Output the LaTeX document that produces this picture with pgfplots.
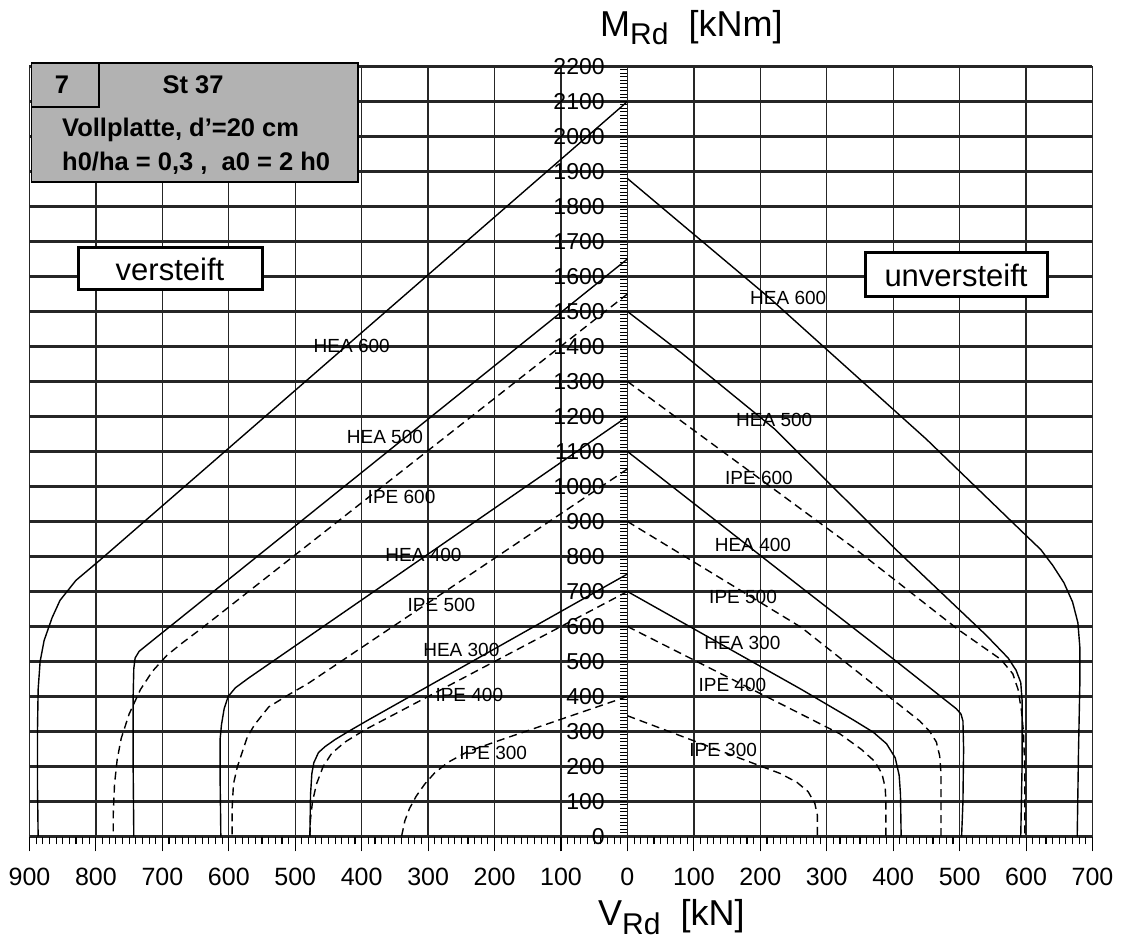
\documentclass[border=0pt]{standalone}
\usepackage{pgfplots}
\pgfplotsset{compat=1.18}
\usepackage{fontspec}
\setmainfont{Liberation Sans}

% curve styles
\tikzset{
  solidc/.style={black, line width=1.4pt},
  dashc/.style={black, line width=1.4pt, dash pattern=on 8pt off 5pt},
  clab/.style={font=\fontsize{19}{19}\selectfont, inner sep=0pt},
}

\begin{document}
\begin{tikzpicture}[x=1pt,y=1pt]
\begin{axis}[
  at={(0,0)}, anchor=south west,
  width=1063pt, height=770pt, scale only axis,
  xmin=-900, xmax=700, ymin=0, ymax=2200,
  xtick={-900,-800,...,700},
  xticklabels={900,800,700,600,500,400,300,200,100,0,100,200,300,400,500,600,700},
  minor x tick num=9,
  xtick pos=left,
  tick align=outside,
  major tick length=15pt, minor tick length=8pt,
  ytick={0,100,...,2200}, yticklabels={},
  ytick style={draw=none},
  grid=major,
  major x grid style={black!85, line width=1.3pt},
  major y grid style={black!85, line width=2.2pt},
  axis line style={black!85, line width=1.3pt},
  x tick style={black, line width=1.1pt},
  xticklabel style={font=\fontsize{25}{25}\selectfont, inner sep=0pt, yshift=-16pt},
  clip=false,
]
% M-axis ruler at V = 0
\pgfplotsinvokeforeach{10,20,...,2190}{\draw[line width=1pt] (axis cs:0,#1) -- ++(-7pt,0pt);}
\pgfplotsinvokeforeach{0,100,...,2200}{\node[anchor=east, inner sep=0pt, font=\fontsize{23}{23}\selectfont] at (axis cs:-34,#1) {#1};}

% ---------- versteift (left) ----------
% HEA 600
\addplot[solidc] coordinates {(0,2100) (-415,1415) (-795,788) (-830,732) (-854,675) (-866,625) (-878,560) (-884,500) (-887,420) (-888,300) (-888,150) (-887,0)};
% HEA 500
\addplot[solidc] coordinates {(0,1650) (-720,552) (-735,529) (-741,510) (-743,480) (-744,400) (-744,200) (-743,0)};
% IPE 600
\addplot[dashc] coordinates {(0,1550) (-640,596) (-670,553) (-693,518) (-715,472) (-733,420) (-750,350) (-762,280) (-768,220) (-772,150) (-774,60) (-774,0)};
% HEA 400
\addplot[solidc] coordinates {(0,1200) (-570,453) (-590,425) (-601,400) (-607,365) (-611,320) (-613,280) (-613,150) (-612,0)};
% IPE 500
\addplot[dashc] coordinates {(0,1050) (-480,438) (-510,405) (-540,370) (-561,320) (-572,285) (-580,240) (-587,200) (-593,150) (-595,80) (-595,0)};
% HEA 300
\addplot[solidc] coordinates {(0,750) (-390,333) (-420,300) (-440,277) (-455,257) (-465,240) (-472,211) (-475,180) (-477,120) (-478,0)};
% IPE 400
\addplot[dashc] coordinates {(0,700) (-395,305) (-425,270) (-445,238) (-458,200) (-468,150) (-474,100) (-477,50) (-478,0)};
% IPE 300
\addplot[dashc] coordinates {(0,400) (-189,277) (-240,243) (-270,212) (-290,182) (-305,150) (-318,115) (-328,80) (-335,45) (-340,0)};

% ---------- unversteift (right) ----------
% HEA 600
\addplot[solidc] coordinates {(0,1880) (213,1540) (450,1135) (600,860) (622,820) (640,775) (657,725) (670,670) (678,611) (681,540) (681,440) (679,250) (677,0)};
% HEA 500
\addplot[solidc] coordinates {(0,1500) (81,1382) (221,1165) (404,820) (540,575) (573,510) (585,475) (592,440) (594,390) (594,200) (592,0)};
% IPE 600
\addplot[dashc] coordinates {(0,1300) (344,820) (498,591) (562,506) (580,465) (588,420) (593,360) (596,300) (598,200) (598,0)};
% HEA 400
\addplot[solidc] coordinates {(0,1100) (262,711) (401,506) (495,365) (502,350) (505,330) (506,250) (505,100) (503,0)};
% IPE 500
\addplot[dashc] coordinates {(0,900) (262,597) (400,390) (440,330) (455,300) (465,270) (470,230) (472,180) (472,0)};
% HEA 300
\addplot[solidc] coordinates {(0,700) (262,420) (340,333) (370,298) (390,265) (403,225) (409,175) (411,120) (412,0)};
% IPE 400
\addplot[dashc] coordinates {(0,600) (262,349) (320,293) (352,249) (372,215) (383,180) (388,140) (389,100) (389,0)};
% IPE 300
\addplot[dashc] coordinates {(0,345) (230,180) (255,155) (272,128) (282,95) (286,60) (286,0)};

% curve names
\node[clab] at (axis cs:-415,1401) {HEA 600};
\node[clab] at (axis cs:-365,1141) {HEA 500};
\node[clab] at (axis cs:-340,970) {IPE 600};
\node[clab] at (axis cs:-307,805) {HEA 400};
\node[clab] at (axis cs:-280,661) {IPE 500};
\node[clab] at (axis cs:-250,533) {HEA 300};
\node[clab] at (axis cs:-238,405) {IPE 400};
\node[clab] at (axis cs:-202,239) {IPE 300};
\node[clab] at (axis cs:242,1539) {HEA 600};
\node[clab] at (axis cs:221,1190) {HEA 500};
\node[clab] at (axis cs:198,1024) {IPE 600};
\node[clab] at (axis cs:189,833) {HEA 400};
\node[clab] at (axis cs:174,684) {IPE 500};
\node[clab] at (axis cs:173,553) {HEA 300};
\node[clab] at (axis cs:158,433) {IPE 400};
\node[clab] at (axis cs:144,247) {IPE 300};
\end{axis}

% info panel
\fill[black!30] (2.2,773.5) rectangle (328.5,654.5);
\draw[line width=1.2pt] (2.2,773.5) rectangle (328.5,654.5);
\draw[line width=1.2pt] (2.2,729.5) -- (69.5,729.5) -- (69.5,773.5);
\begin{scope}[every node/.style={font=\bfseries\fontsize{25.5}{25.5}\selectfont, inner sep=0pt}]
\node at (32.5,751.5) {7};
\node at (163.5,751.5) {St 37};
\node[anchor=west] at (32.5,706.5) {Vollplatte, d'=20 cm};
\node[anchor=west] at (32.5,673.5) {h0/ha = 0,3 ,\ \ a0 = 2 h0};
\end{scope}

% stiffening boxes
\draw[line width=3pt, fill=white] (48.5,588.5) rectangle (232.5,546.5);
\node[font=\fontsize{31}{31}\selectfont] at (140.5,567.5) {versteift};
\draw[line width=3pt, fill=white] (835.5,583.5) rectangle (1017.5,539.5);
\node[font=\fontsize{31}{31}\selectfont] at (926.5,561.5) {unversteift};

% axis titles
\node[anchor=base west, inner sep=0pt, font=\fontsize{36}{36}\selectfont] at (570.5,799.5)
  {M\raisebox{-8pt}{\fontsize{30}{30}\selectfont Rd}\ \ [kNm]};
\node[anchor=base west, inner sep=0pt, font=\fontsize{36}{36}\selectfont] at (568.5,-89.5)
  {V\raisebox{-9pt}{\fontsize{30}{30}\selectfont Rd}\ \ [kN]};

\pgfresetboundingbox
\useasboundingbox (-29.5,-107.5) rectangle (1092.5,836.5);
\end{tikzpicture}
\end{document}
